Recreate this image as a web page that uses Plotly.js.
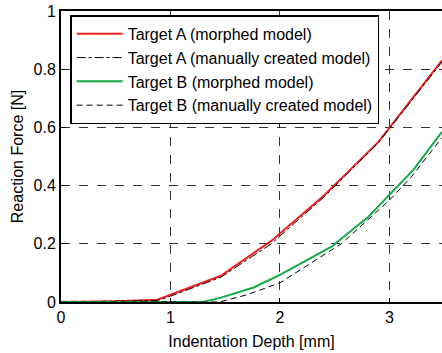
<!DOCTYPE html>
<html><head><meta charset="utf-8">
<script src="https://cdn.plot.ly/plotly-3.0.1.min.js"></script>
<style>html,body{margin:0;padding:0;background:#fff}#chart{width:442px;height:353px}</style>
</head><body><div id="chart"></div>
<script>
var aMorphX = [0, 0.5, 0.88, 1.46, 1.92, 2.4, 2.9, 3.48];
var aMorphY = [0, 0.003, 0.008, 0.09, 0.21, 0.365, 0.55, 0.83];
var aManX = [0, 0.5, 0.88, 1.0, 1.46, 1.92, 2.4, 2.9, 3.48];
var aManY = [0, 0.002, 0.005, 0.02, 0.085, 0.2, 0.36, 0.548, 0.825];
var bMorphX = [0, 1.3, 1.46, 1.76, 2.0, 2.47, 2.8, 3.0, 3.22, 3.48];
var bMorphY = [0, 0, 0.015, 0.05, 0.093, 0.19, 0.29, 0.37, 0.455, 0.585];
var bManX = [0, 1.45, 1.7, 2.0, 2.56, 3.0, 3.2, 3.48];
var bManY = [0, 0, 0.025, 0.066, 0.2, 0.35, 0.43, 0.565];
var names = ["Target A (morphed model)", "Target A (manually created model)", "Target B (morphed model)", "Target B (manually created model)"];
var xTicks = [0, 1, 2, 3];
var yTicks = [0, 0.2, 0.4, 0.6, 0.8, 1];

var traces = [
  {x: aMorphX, y: aMorphY, name: names[0], mode: "lines", line: {color: "#ee2222", width: 2}},
  {x: aManX, y: aManY, name: names[1], mode: "lines", line: {color: "#000", width: 1, dash: "dashdot"}},
  {x: bMorphX, y: bMorphY, name: names[2], mode: "lines", line: {color: "#11aa44", width: 2}},
  {x: bManX, y: bManY, name: names[3], mode: "lines", line: {color: "#000", width: 1, dash: "6px,4px"}}
];
var font = {family: "Liberation Sans, Arial, sans-serif", size: 16, color: "#000"};
var layout = {
  width: 442, height: 353,
  margin: {l: 61, r: 0, t: 11, b: 51},
  paper_bgcolor: "#fff", plot_bgcolor: "#fff",
  font: font,
  showlegend: true,
  legend: {x: 0.024, y: 0.985, xanchor: "left", yanchor: "top", bgcolor: "#fff",
           bordercolor: "#000", borderwidth: 1.5, font: font, itemwidth: 46,
           tracegroupgap: 0},
  xaxis: {range: [0, 3.48], tickvals: xTicks, ticks: "inside", ticklen: 4, tickcolor: "#000",
          showline: true, linecolor: "#000", linewidth: 2, mirror: true,
          showgrid: true, gridcolor: "#000", griddash: "dash", gridwidth: 0.8,
          zeroline: false, tickfont: font,
          title: {text: "Indentation Depth [mm]", font: font, standoff: 11}},
  yaxis: {range: [0, 1], tickvals: yTicks, ticktext: ["0", "0.2", "0.4", "0.6", "0.8", "1"],
          ticks: "inside", ticklen: 4, tickcolor: "#000",
          showline: true, linecolor: "#000", linewidth: 2, mirror: false,
          showgrid: true, gridcolor: "#000", griddash: "dash", gridwidth: 0.8,
          zeroline: false, tickfont: font,
          title: {text: "Reaction Force [N]", font: font, standoff: 6}}
};
Plotly.newPlot("chart", traces, layout, {staticPlot: true, displayModeBar: false});
</script></body></html>
